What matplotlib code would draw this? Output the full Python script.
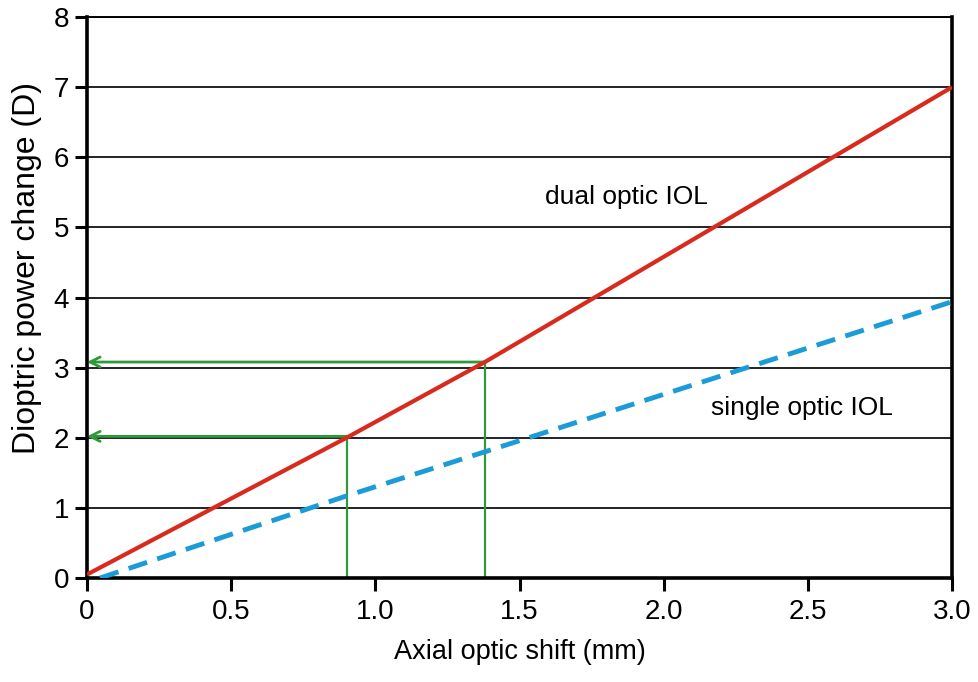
import numpy as np
import matplotlib.pyplot as plt

plt.rcParams['font.family'] = ['Liberation Sans', 'DejaVu Sans']

dual_x = [0.0, 0.9, 1.38, 3.0]
dual_y = [0.05, 2.0, 3.08, 7.0]
single_x = [0.045, 0.9, 1.38, 3.0]
single_y = [0.0, 1.17, 1.8, 3.94]
shift_marks = [0.9, 1.38]
power_marks = [2.02, 3.08]

fig = plt.figure(figsize=(9.79, 6.82), dpi=100)
ax = fig.add_axes([0.0889, 0.1525, 0.8835, 0.8225])

for y in range(1, 9):
    ax.axhline(y, color='#222222', lw=1.4, zorder=1)

ax.plot(dual_x, dual_y, color='#d92a1e', lw=3, zorder=3, solid_capstyle='butt')
ax.plot(single_x, single_y, color='#1b9bd7', lw=3.5, ls=(0, (4, 2.2)), zorder=3)

for sx, py in zip(shift_marks, power_marks):
    ax.plot([sx, sx], [0, py], color='#2e9a3c', lw=1.6, zorder=2)
    ax.annotate('', xy=(0.0, py), xytext=(sx, py),
                arrowprops=dict(arrowstyle='->', color='#2e9a3c', lw=2,
                                shrinkA=0, shrinkB=0, mutation_scale=18),
                zorder=2)

ax.text(1.87, 5.43, 'dual optic IOL', fontsize=19, ha='center', va='center')
ax.text(2.48, 2.43, 'single optic IOL', fontsize=19, ha='center', va='center')

ax.set_xlim(0, 3.0)
ax.set_ylim(0, 8)
ax.set_xticks([0, 0.5, 1.0, 1.5, 2.0, 2.5, 3.0])
ax.set_xticklabels(['0', '0.5', '1.0', '1.5', '2.0', '2.5', '3.0'])
ax.set_yticks(range(0, 9))
ax.tick_params(direction='out', length=9, width=2.2, labelsize=20, pad=4)
ax.tick_params(axis='x', pad=6)

for side in ['left', 'bottom', 'right']:
    ax.spines[side].set_linewidth(2.6)
ax.spines['top'].set_linewidth(1.4)

ax.set_xlabel('Axial optic shift (mm)', fontsize=19.5, labelpad=10)
ax.set_ylabel('Dioptric power change (D)', fontsize=23, labelpad=8)
ax.yaxis.label.set_y(0.553)

fig.savefig('out.png', dpi=100)
